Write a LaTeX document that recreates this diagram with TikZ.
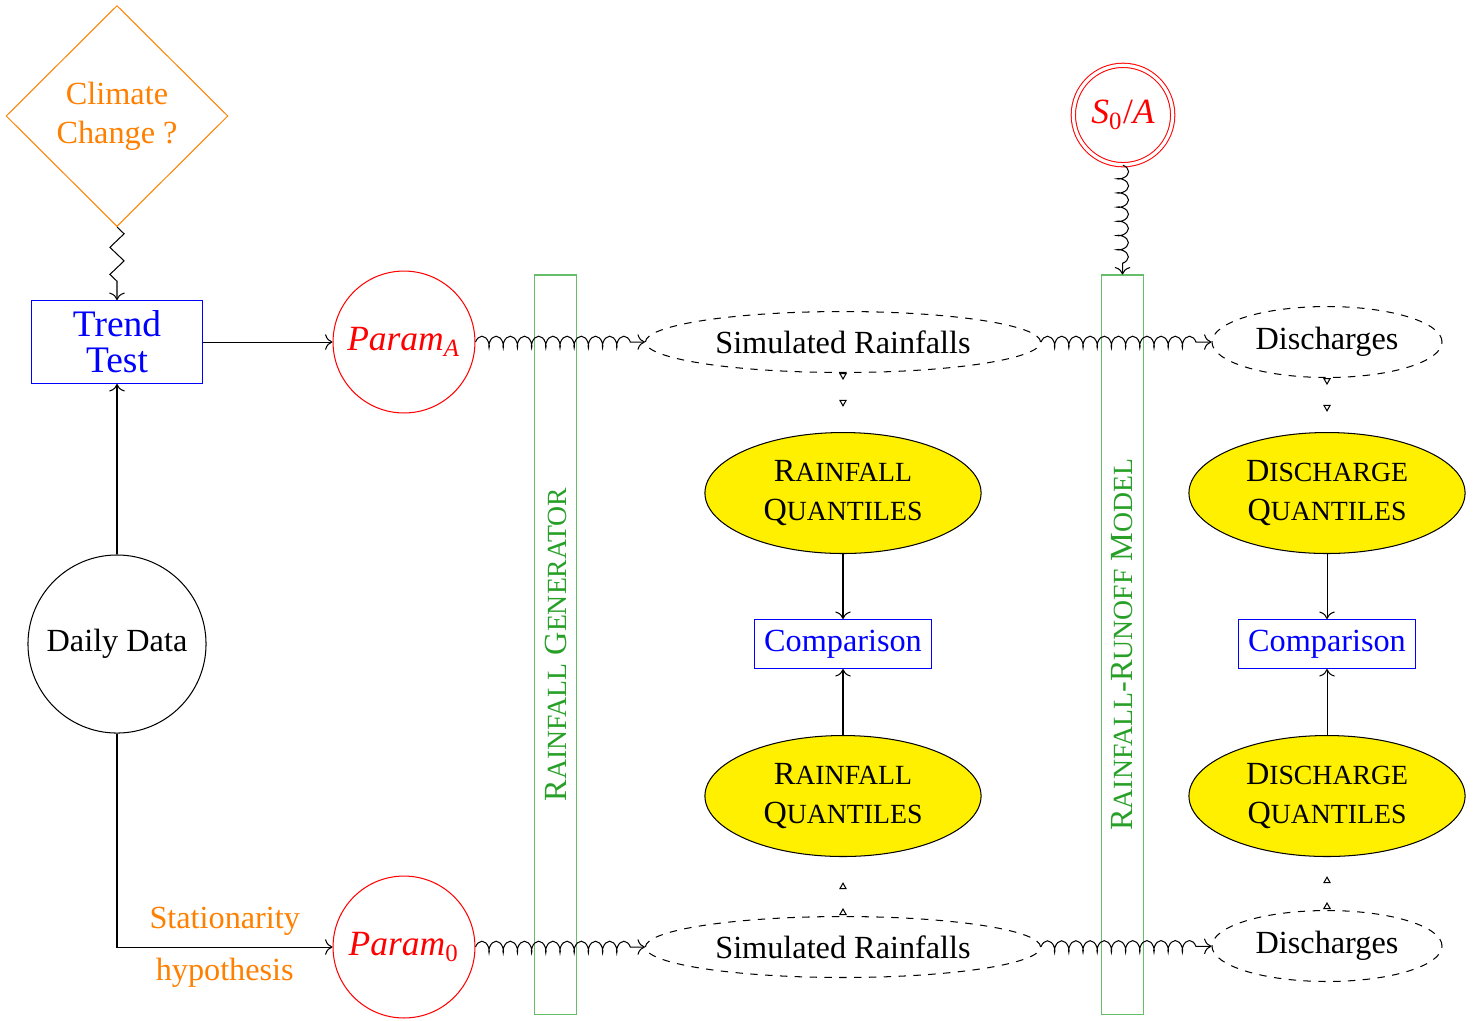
\documentclass[tikz,border=0pt]{standalone}
\usepackage{fontspec}
\setmainfont{Liberation Serif}
\usetikzlibrary{shapes.geometric,decorations.pathmorphing,decorations.markings,arrows.meta}
\definecolor{ccyellow}{RGB}{255,240,0}
\definecolor{ccgreen}{RGB}{40,160,40}
\definecolor{ccorange}{RGB}{255,128,0}
\newcommand\fsc[2]{#1{\fontsize{8.6}{10}\selectfont #2}}
\begin{document}
\begin{tikzpicture}[x=0.31pt,y=-0.31pt,line width=0.32pt,
  bluebox/.style={draw=blue,text=blue,inner sep=0pt},
  redcirc/.style={circle,draw=red,text=red,inner sep=0pt,minimum size=44pt,font=\fontsize{11}{13}\selectfont},
  greenbox/.style={draw=ccgreen!70,inner sep=0pt,minimum width=13.3pt,minimum height=229.1pt},
  greentext/.style={text=ccgreen,rotate=90,inner sep=0pt},
  dashell/.style={ellipse,draw,dash pattern=on 2.3pt off 2.3pt,inner sep=0pt},
  yellell/.style={ellipse,draw,fill=ccyellow,inner sep=0pt,minimum width=85.6pt,minimum height=37.5pt,align=center},
  coilline/.style={->,decorate,decoration={coil,segment length=4.4pt,amplitude=1.8pt,post length=3pt}},
  trimark/.style 2 args={decoration={markings,
      mark=at position #1 with {\arrow{Triangle[open,length=2.2pt,width=2.4pt]}},
      mark=at position #2 with {\arrow{Triangle[open,length=2.2pt,width=2.4pt]}}},
      postaction={decorate}}
]
\useasboundingbox (0,0) rectangle (1482,1020);

% left column
\node[diamond,draw=ccorange,text=ccorange,minimum width=68.8pt,minimum height=68.5pt,inner sep=0pt,align=center] (cc) at (117,116) {Climate\\Change ?};
\node[bluebox,minimum width=53.3pt,minimum height=25.7pt,font=\fontsize{11.6}{11.2}\selectfont,align=center] (tt) at (117,342) {Trend\\Test};
\node[circle,draw,inner sep=0pt,minimum size=55.2pt] (dd) at (117,644) {Daily Data};

% parameters
\node[redcirc] (pa) at (404,342) {\textit{Param}\textsubscript{\textit{A}}};
\node[redcirc] (p0) at (404,947) {\textit{Param}\textsubscript{0}};

% green models
\node[greenbox] (rg) at (555.5,644.5) {};
\node[greentext] (rgt) at (rg.center) {\fsc{R}{AINFALL} \fsc{G}{ENERATOR}};
\node[greenbox] (rr) at (1122.5,644.5) {};
\node[greentext] (rrt) at (rr.center) {\fsc{R}{AINFALL}-\fsc{R}{UNOFF} \fsc{M}{ODEL}};

\node[circle,draw=red,double,double distance=1pt,text=red,inner sep=0pt,minimum size=30.8pt,font=\fontsize{11}{13}\selectfont] (s0) at (1123,115) {\textit{S}\textsubscript{0}/\textit{A}};

% simulations
\node[dashell,minimum width=122.5pt,minimum height=18.9pt] (sra) at (843,342) {Simulated Rainfalls};
\node[dashell,minimum width=71.3pt,minimum height=22pt] (dia) at (1327,342) {Discharges};
\node[dashell,minimum width=122.5pt,minimum height=18.9pt] (sr0) at (843,947) {Simulated Rainfalls};
\node[dashell,minimum width=71.3pt,minimum height=22pt] (di0) at (1327,946) {Discharges};

% quantiles
\node[yellell] (rqa) at (843,493) {\fsc{R}{AINFALL}\\\fsc{Q}{UANTILES}};
\node[yellell] (rq0) at (843,796) {\fsc{R}{AINFALL}\\\fsc{Q}{UANTILES}};
\node[yellell] (dqa) at (1327,493) {\fsc{D}{ISCHARGE}\\\fsc{Q}{UANTILES}};
\node[yellell] (dq0) at (1327,796) {\fsc{D}{ISCHARGE}\\\fsc{Q}{UANTILES}};

\node[bluebox,minimum width=54.9pt,minimum height=15.2pt] (cpr) at (843,644) {Comparison};
\node[bluebox,minimum width=54.9pt,minimum height=15.2pt] (cpd) at (1327,644) {Comparison};

% connectors
\draw[->,decorate,decoration={zigzag,segment length=8.4pt,amplitude=2.2pt,post length=2pt}] (cc.south) -- (tt.north);
\draw[->] (tt) -- (pa);
\draw[->] (dd) -- (tt);
\draw[->] (dd.south) |- (p0.west)
  node[pos=0.75,above,text=ccorange] {Stationarity}
  node[pos=0.75,below,text=ccorange] {hypothesis};

\draw[coilline] (pa) -- (sra);
\draw[coilline] (sra) -- (dia);
\draw[coilline] (p0) -- (sr0);
\draw[coilline] (sr0) -- (di0);
\draw[coilline] (s0) -- (rr.north);

\path[trimark={2.2pt}{10.5pt}] (sra.south) -- (rqa.north);
\path[trimark={2.2pt}{10.5pt}] (dia.south) -- (dqa.north);
\path[trimark={2.5pt}{10.5pt}] (sr0.north) -- (rq0.south);
\path[trimark={2.5pt}{10.5pt}] (di0.north) -- (dq0.south);

\draw[->] (rqa) -- (cpr);
\draw[->] (rq0) -- (cpr);
\draw[->] (dqa) -- (cpd);
\draw[->] (dq0) -- (cpd);
\end{tikzpicture}
\end{document}
